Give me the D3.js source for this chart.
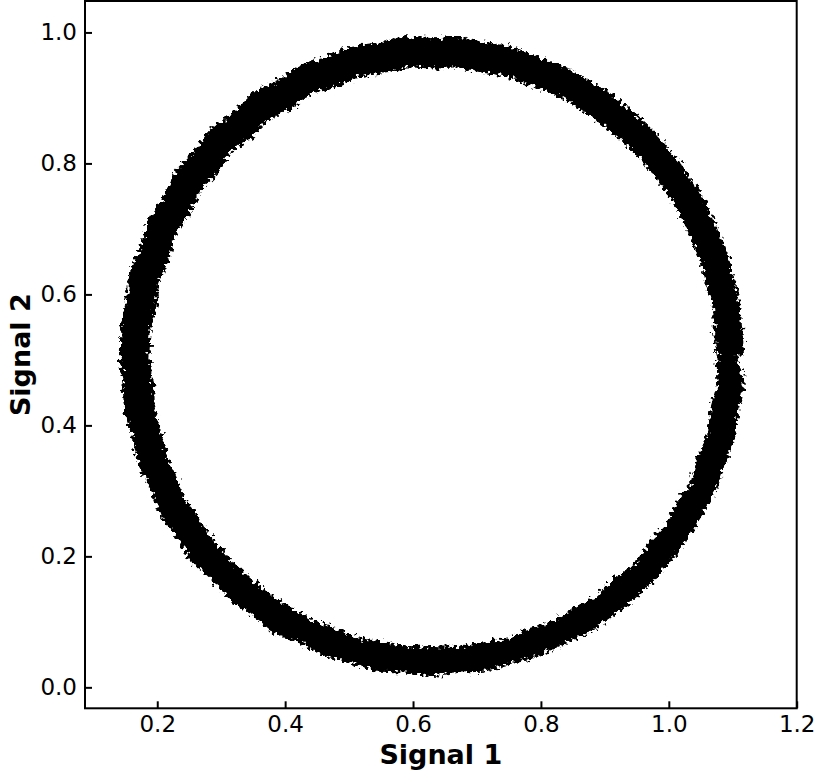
<!DOCTYPE html>
<html>
<head>
<meta charset="utf-8">
<script src="https://cdn.jsdelivr.net/npm/d3@7"></script>
<style>
	body { margin: 0; background: #fff; }
	text { font-family: "DejaVu Sans", sans-serif; }
</style>
</head>
<body>
<div id="chart"></div>
<script>
// two noisy laps of the trace, then back to the start of lap 2
const signal1 = [
	1.102, 1.099, 1.096, 1.084, 1.075, 1.056, 1.041, 1.015, 0.993, 0.962, 0.935, 0.899, 0.868, 0.828, 0.792, 0.750, 0.713, 0.669,
	0.631, 0.587, 0.549, 0.506, 0.470, 0.428, 0.395, 0.357, 0.328, 0.294, 0.269, 0.241, 0.222, 0.200, 0.188, 0.172, 0.166, 0.158,
	0.157, 0.161, 0.164, 0.176, 0.186, 0.204, 0.219, 0.245, 0.266, 0.298, 0.325, 0.361, 0.392, 0.432, 0.467, 0.510, 0.546, 0.591,
	0.628, 0.673, 0.710, 0.754, 0.789, 0.832, 0.864, 0.903, 0.931, 0.966, 0.990, 1.019, 1.037, 1.060, 1.072, 1.088, 1.093, 1.103,
	1.091, 1.086, 1.085, 1.072, 1.064, 1.045, 1.031, 1.005, 0.985, 0.954, 0.928, 0.893, 0.863, 0.824, 0.790, 0.749, 0.714, 0.670,
	0.634, 0.590, 0.555, 0.511, 0.478, 0.436, 0.405, 0.367, 0.340, 0.306, 0.283, 0.255, 0.237, 0.215, 0.204, 0.188, 0.183, 0.174,
	0.172, 0.178, 0.179, 0.192, 0.200, 0.219, 0.233, 0.259, 0.279, 0.310, 0.336, 0.371, 0.401, 0.440, 0.474, 0.515, 0.551, 0.594,
	0.630, 0.674, 0.710, 0.753, 0.786, 0.828, 0.859, 0.897, 0.924, 0.958, 0.981, 1.009, 1.027, 1.049, 1.060, 1.077, 1.081, 1.092,
	1.090
];

const signal2 = [
	0.506, 0.549, 0.586, 0.630, 0.665, 0.708, 0.740, 0.779, 0.807, 0.842, 0.866, 0.895, 0.913, 0.936, 0.948, 0.964, 0.969, 0.978,
	0.976, 0.979, 0.970, 0.964, 0.948, 0.936, 0.913, 0.895, 0.866, 0.842, 0.807, 0.779, 0.740, 0.708, 0.665, 0.630, 0.586, 0.549,
	0.504, 0.467, 0.422, 0.386, 0.343, 0.309, 0.268, 0.237, 0.201, 0.174, 0.142, 0.121, 0.095, 0.080, 0.061, 0.052, 0.039, 0.038,
	0.032, 0.038, 0.039, 0.052, 0.061, 0.080, 0.095, 0.121, 0.142, 0.174, 0.201, 0.237, 0.268, 0.309, 0.343, 0.386, 0.422, 0.467,
	0.502, 0.546, 0.582, 0.625, 0.659, 0.700, 0.731, 0.769, 0.796, 0.830, 0.853, 0.881, 0.899, 0.921, 0.932, 0.948, 0.953, 0.962,
	0.960, 0.962, 0.953, 0.948, 0.932, 0.921, 0.899, 0.881, 0.853, 0.830, 0.796, 0.769, 0.731, 0.700, 0.659, 0.625, 0.582, 0.546,
	0.506, 0.462, 0.426, 0.383, 0.349, 0.308, 0.277, 0.239, 0.212, 0.178, 0.155, 0.127, 0.109, 0.087, 0.076, 0.060, 0.055, 0.046,
	0.048, 0.046, 0.055, 0.060, 0.076, 0.087, 0.109, 0.127, 0.155, 0.178, 0.212, 0.239, 0.277, 0.308, 0.349, 0.383, 0.426, 0.462,
	0.504
];

const xTicks = [0.2, 0.4, 0.6, 0.8, 1.0, 1.2];
const yTicks = [0.0, 0.2, 0.4, 0.6, 0.8, 1.0];
const xLabel = "Signal 1";
const yLabel = "Signal 2";

const width = 820;
const height = 775;
const plot = { left: 85, right: 796.7, top: 1, bottom: 708.3 };

const svg = d3.select("#chart").append("svg")
	.attr("width", width)
	.attr("height", height);

// rough edge for the thick trace
const filter = svg.append("defs").append("filter")
	.attr("id", "rough")
	.attr("x", "-5%").attr("y", "-5%")
	.attr("width", "110%").attr("height", "110%");
filter.append("feTurbulence")
	.attr("type", "fractalNoise")
	.attr("baseFrequency", 0.25)
	.attr("numOctaves", 2)
	.attr("seed", 3)
	.attr("result", "noise");
filter.append("feDisplacementMap")
	.attr("in", "SourceGraphic")
	.attr("in2", "noise")
	.attr("scale", 12)
	.attr("xChannelSelector", "R")
	.attr("yChannelSelector", "G");

const xScale = d3.scaleLinear()
	.domain([0.087, 1.2])
	.range([plot.left, plot.right]);

const yScale = d3.scaleLinear()
	.domain([-0.032, 1.048])
	.range([plot.bottom, plot.top]);

const points = signal1.map((v, i) => [v, signal2[i]]);

const line = d3.line()
	.x(d => xScale(d[0]))
	.y(d => yScale(d[1]));

svg.append("path")
	.attr("d", line(points))
	.attr("fill", "none")
	.attr("stroke", "#000")
	.attr("stroke-width", 20)
	.attr("stroke-linejoin", "round")
	.attr("filter", "url(#rough)");

// axes, ticks pointing inward
const xAxis = svg.append("g")
	.attr("transform", `translate(0, ${plot.bottom})`)
	.call(d3.axisBottom(xScale).tickValues(xTicks).tickFormat(d3.format(".1f"))
		.tickSizeInner(-7).tickSizeOuter(0).tickPadding(7));

const yAxis = svg.append("g")
	.attr("transform", `translate(${plot.left}, 0)`)
	.call(d3.axisLeft(yScale).tickValues(yTicks).tickFormat(d3.format(".1f"))
		.tickSizeInner(-7).tickSizeOuter(0).tickPadding(8));

[xAxis, yAxis].forEach(g => {
	g.select(".domain").remove();
	g.selectAll(".tick line").attr("stroke", "#000").attr("stroke-width", 2);
	g.selectAll(".tick text")
		.attr("fill", "#000")
		.attr("font-size", "23px")
		.attr("font-family", "DejaVu Sans");
});

svg.append("rect")
	.attr("x", plot.left)
	.attr("y", plot.top)
	.attr("width", plot.right - plot.left)
	.attr("height", plot.bottom - plot.top)
	.attr("fill", "none")
	.attr("stroke", "#000")
	.attr("stroke-width", 2);

svg.append("text")
	.attr("x", (plot.left + plot.right) / 2)
	.attr("y", 764)
	.attr("text-anchor", "middle")
	.attr("font-size", "27px")
	.attr("font-weight", "bold")
	.text(xLabel);

svg.append("text")
	.attr("transform", `translate(30, ${(plot.top + plot.bottom) / 2}) rotate(-90)`)
	.attr("text-anchor", "middle")
	.attr("font-size", "27px")
	.attr("font-weight", "bold")
	.text(yLabel);
</script>
</body>
</html>
